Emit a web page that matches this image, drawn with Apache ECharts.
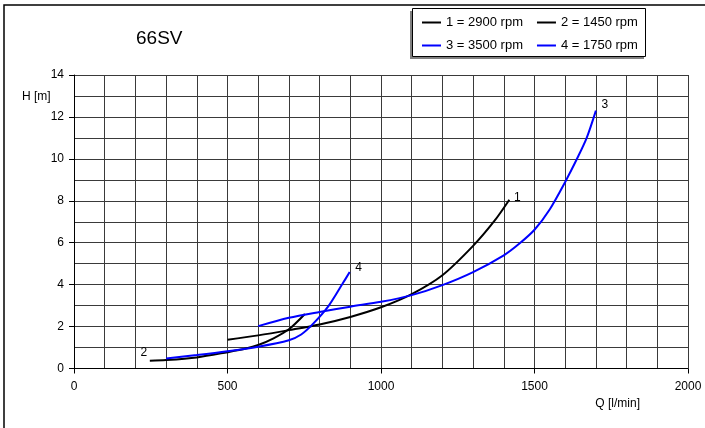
<!DOCTYPE html>
<html>
<head>
<meta charset="utf-8">
<script src="https://cdn.jsdelivr.net/npm/echarts@6/dist/echarts.min.js"></script>
<style>
html,body{margin:0;padding:0;background:#fff;}
#chart{width:705px;height:428px;}
</style>
</head>
<body>
<div id="chart"></div>
<script>
// Data
var seriesNames = ['1 = 2900 rpm', '2 = 1450 rpm', '3 = 3500 rpm', '4 = 1750 rpm'];
var curveLabels = ['1', '2', '3', '4'];

var curve1Q = [500, 600, 700, 800, 900, 1000, 1100, 1200, 1300, 1370, 1418];
var curve1H = [1.37, 1.58, 1.83, 2.1, 2.46, 2.92, 3.55, 4.45, 5.85, 7.05, 8.05];

var curve2Q = [247, 300, 400, 500, 560, 600, 650, 700, 752];
var curve2H = [0.37, 0.40, 0.53, 0.78, 0.95, 1.12, 1.44, 1.87, 2.6];

var curve3Q = [600, 700, 800, 900, 1000, 1100, 1200, 1300, 1400, 1450, 1500, 1550, 1600, 1640, 1670, 1700];
var curve3H = [2.02, 2.42, 2.7, 2.95, 3.18, 3.5, 3.98, 4.6, 5.4, 5.95, 6.62, 7.6, 8.9, 10.05, 11.0, 12.3];

var curve4Q = [300, 400, 500, 600, 700, 740, 780, 830, 875, 898];
var curve4H = [0.48, 0.64, 0.82, 1.04, 1.35, 1.62, 2.15, 3.0, 4.05, 4.6];

var xTicks = [0, 500, 1000, 1500, 2000];
var yTicks = [0, 2, 4, 6, 8, 10, 12, 14];

var FONT = 'Liberation Sans, Arial, sans-serif';

function pairs(q, h) {
  return q.map(function (v, i) { return [v, h[i]]; });
}

function makeSeries(name, q, h, color, label, labelIdx, offset) {
  return {
    name: name,
    type: 'line',
    data: pairs(q, h),
    smooth: 0.3,
    showSymbol: false,
    symbol: 'none',
    lineStyle: { color: color, width: 2 },
    itemStyle: { color: color },
    animation: false,
    markPoint: {
      symbol: 'circle',
      symbolSize: 1,
      itemStyle: { color: 'rgba(0,0,0,0)' },
      label: {
        show: true,
        formatter: label,
        color: '#000',
        fontFamily: FONT,
        fontSize: 12,
        position: 'inside',
        offset: offset
      },
      data: [{ coord: [q[labelIdx], h[labelIdx]] }]
    }
  };
}

var chart = echarts.init(document.getElementById('chart'), null, { renderer: 'canvas' });

var legendBase = {
  itemWidth: 19, itemHeight: 2, itemGap: 14,
  icon: 'rect', padding: 0,
  textStyle: { fontFamily: FONT, fontSize: 13, color: '#000' }
};

var option = {
  backgroundColor: '#fff',
  animation: false,
  title: {
    text: '66SV',
    left: 131,
    top: 24,
    textStyle: { fontFamily: FONT, fontSize: 19, fontWeight: 'normal', color: '#000' }
  },
  legend: [
    Object.assign({}, legendBase, { data: [seriesNames[0], seriesNames[1]], left: 422, top: 16 }),
    Object.assign({}, legendBase, { data: [seriesNames[2], seriesNames[3]], left: 422, top: 39 })
  ],
  grid: { left: 74, right: 17, top: 75, bottom: 59.5, containLabel: false },
  xAxis: {
    type: 'value',
    min: xTicks[0], max: xTicks[xTicks.length - 1], interval: 500,
    axisLine: { show: true, lineStyle: { color: '#000', width: 1 } },
    axisTick: { show: true, length: 5, lineStyle: { color: '#000' } },
    axisLabel: { color: '#000', fontFamily: FONT, fontSize: 12, margin: 12,
      formatter: function (v) { return String(v); } },
    splitLine: { show: true, lineStyle: { color: '#3a3a3a', width: 1 } },
    minorTick: { show: false, splitNumber: 5 },
    minorSplitLine: { show: true, lineStyle: { color: '#3a3a3a', width: 1 } }
  },
  yAxis: {
    type: 'value',
    min: yTicks[0], max: yTicks[yTicks.length - 1], interval: 2,
    axisLine: { show: true, lineStyle: { color: '#000', width: 1 } },
    axisTick: { show: true, length: 5, lineStyle: { color: '#000' } },
    axisLabel: { color: '#000', fontFamily: FONT, fontSize: 12, margin: 10,
      formatter: function (v) { return String(v); } },
    splitLine: { show: true, lineStyle: { color: '#3a3a3a', width: 1 } },
    minorTick: { show: false, splitNumber: 2 },
    minorSplitLine: { show: true, lineStyle: { color: '#3a3a3a', width: 1 } }
  },
  graphic: [
    {
      type: 'rect', z: -10, silent: true,
      shape: { x: 4, y: 5, width: 720, height: 440 },
      style: { fill: '#fff', stroke: '#000', lineWidth: 1.5 }
    },
    {
      type: 'rect', z: 0, silent: true,
      shape: { x: 410, y: 11, width: 234, height: 48 },
      style: { fill: '#808080', stroke: null }
    },
    {
      type: 'rect', z: 0, silent: true,
      shape: { x: 412.5, y: 8.5, width: 233, height: 48 },
      style: { fill: '#fff', stroke: '#000', lineWidth: 1 }
    },
    {
      type: 'text', silent: true,
      style: { x: 22, y: 97, text: 'H [m]', fill: '#000', font: '12px ' + FONT,
        textAlign: 'left', textVerticalAlign: 'middle' }
    },
    {
      type: 'text', silent: true,
      style: { x: 640, y: 404, text: 'Q [l/min]', fill: '#000', font: '12px ' + FONT,
        textAlign: 'right', textVerticalAlign: 'middle' }
    }
  ],
  series: [
    makeSeries(seriesNames[0], curve1Q, curve1H, '#000000', curveLabels[0], curve1Q.length - 1, [8, -2]),
    makeSeries(seriesNames[1], curve2Q, curve2H, '#000000', curveLabels[1], 0, [-6, -8]),
    makeSeries(seriesNames[2], curve3Q, curve3H, '#0000ff', curveLabels[2], curve3Q.length - 1, [9, -6]),
    makeSeries(seriesNames[3], curve4Q, curve4H, '#0000ff', curveLabels[3], curve4Q.length - 1, [9, -4])
  ]
};

chart.setOption(option);
</script>
</body>
</html>
